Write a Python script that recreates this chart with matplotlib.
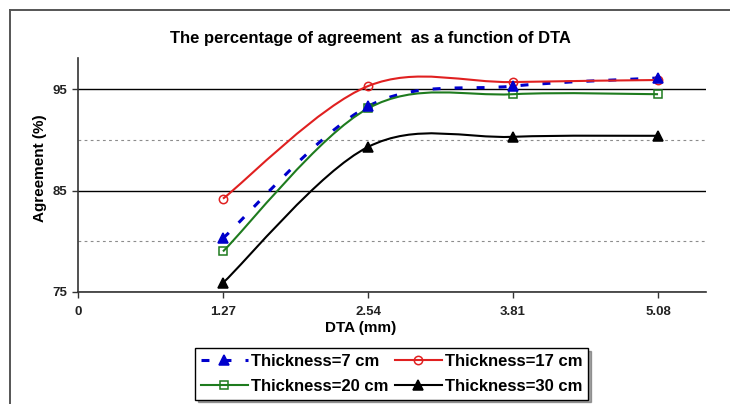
import matplotlib
matplotlib.use("Agg")
import matplotlib.pyplot as plt
from matplotlib.path import Path
from matplotlib.patches import PathPatch
from matplotlib.lines import Line2D

plt.rcParams['font.family'] = ['Liberation Sans', 'DejaVu Sans']
plt.rcParams['font.weight'] = 'bold'

# data
dta = [1.27, 2.54, 3.81, 5.08]
t7 = [80.3, 93.3, 95.3, 96.1]
t17 = [84.2, 95.3, 95.7, 95.9]
t20 = [79.0, 93.1, 94.5, 94.5]
t30 = [75.9, 89.3, 90.3, 90.4]
xtick_labels = ["0", "1.27", "2.54", "3.81", "5.08"]
ytick_vals = [75, 85, 95]


def smooth_path(x, y):
    # excel style smoothed line: bezier segments through the data points
    pts = list(zip(x, y))
    n = len(pts)
    verts = [pts[0]]
    codes = [Path.MOVETO]
    for i in range(n - 1):
        p0 = pts[max(i - 1, 0)]
        p1 = pts[i]
        p2 = pts[i + 1]
        p3 = pts[min(i + 2, n - 1)]
        c1 = (p1[0] + (p2[0] - p0[0]) / 6.0, p1[1] + (p2[1] - p0[1]) / 6.0)
        c2 = (p2[0] - (p3[0] - p1[0]) / 6.0, p2[1] - (p3[1] - p1[1]) / 6.0)
        verts += [c1, c2, p2]
        codes += [Path.CURVE4] * 3
    return Path(verts, codes)


fig = plt.figure(figsize=(7.30, 4.04), dpi=100)
ax = fig.add_axes([78 / 730, 1 - 292 / 404, 628 / 730, 234 / 404])

# chart border, only top and left edges are inside the picture
bx, by = 10 / 730, 1 - 10 / 404
fig.add_artist(Line2D([bx, 1], [by, by], color='#555555', lw=1.4, transform=fig.transFigure))
fig.add_artist(Line2D([bx, bx], [0, by], color='#555555', lw=1.4, transform=fig.transFigure))

series = [
    ("Thickness=7 cm", t7, '#0000CC', (0, (2.6, 4.6)), 2.2, '^', '#0000CC', 7),
    ("Thickness=17 cm", t17, '#E02020', '-', 1.5, 'o', 'none', 6),
    ("Thickness=20 cm", t20, '#1E7B1E', '-', 1.5, 's', 'none', 6),
    ("Thickness=30 cm", t30, 'black', '-', 1.5, '^', 'black', 7),
]
order = [1, 2, 3, 0]
handles = {}
for k in order:
    name, vals, col, ls, lw, mk, mfc, ms = series[k]
    ax.add_patch(PathPatch(smooth_path(dta, vals), fill=False, edgecolor=col, linestyle=ls,
                           lw=lw, zorder=3 + k * 0.1, capstyle='butt'))
    ax.plot(dta, vals, ls='none', marker=mk, ms=ms, mfc=mfc, mec=col, mew=1.1, zorder=4)
    handles[k] = Line2D([], [], color=col, ls=ls, lw=lw, marker=mk, ms=ms, mfc=mfc, mec=col, mew=1.1)

ax.set_xlim(0, 5.5)
ax.set_ylim(75, 98.07)
ax.set_xticks([0] + dta)
ax.set_xticklabels(xtick_labels)
ax.set_yticks(ytick_vals)
ax.set_yticks([80, 90], minor=True)
ax.tick_params(axis='both', which='major', labelsize=9.5, length=4, width=1, color='#333333',
               labelcolor='#222222')
ax.tick_params(axis='y', which='minor', length=0)
ax.tick_params(axis='x', pad=6)
ax.tick_params(axis='y', pad=4)

ax.grid(True, axis='y', which='major', color='black', lw=1)
ax.grid(True, axis='y', which='minor', color='#8c8c8c', lw=0.8, ls=(0, (2.5, 3)))
ax.set_axisbelow(True)

for s in ['top', 'right']:
    ax.spines[s].set_visible(False)
for s in ['left', 'bottom']:
    ax.spines[s].set_color('#333333')
    ax.spines[s].set_linewidth(1.2)

ax.set_ylabel('Agreement (%)', fontsize=11, fontweight='bold')
ax.yaxis.set_label_coords(-0.0605, 0.53)
ax.yaxis.label.set_va('center')
ax.set_xlabel('DTA (mm)', fontsize=11, fontweight='bold')
ax.xaxis.set_label_coords(0.45, -0.154)
ax.xaxis.label.set_va('center')

fig.text(370 / 730, 1 - 38 / 404, 'The percentage of agreement  as a function of DTA',
         ha='center', va='center', fontsize=12, fontweight='bold')

leg = fig.legend([handles[0], handles[2], handles[1], handles[3]],
                 [series[0][0], series[2][0], series[1][0], series[3][0]],
                 ncol=2, loc='upper left', bbox_to_anchor=(195 / 730, 1 - 348 / 404),
                 fontsize=12, frameon=True, fancybox=False, shadow=True,
                 handlelength=2.8, handletextpad=0.2, columnspacing=0.4,
                 labelspacing=0.6, borderpad=0.35, borderaxespad=0)
leg.get_frame().set_edgecolor('black')
leg.get_frame().set_linewidth(1)

fig.savefig('out.png', dpi=100)
